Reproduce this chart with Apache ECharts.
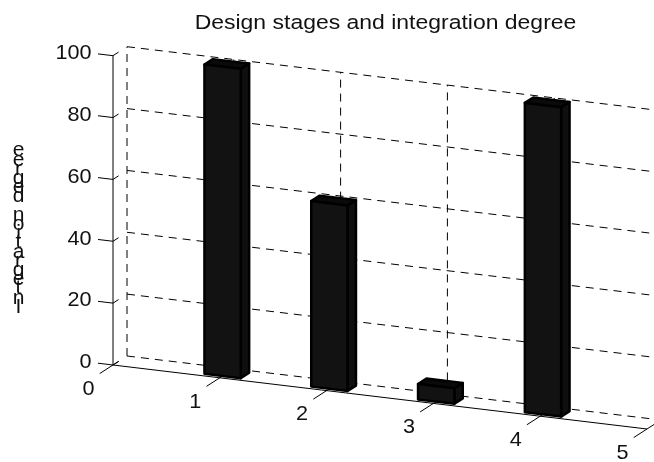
<!DOCTYPE html>
<html>
<head>
<meta charset="utf-8">
<style>html,body{margin:0;padding:0;background:#fff;overflow:hidden}#chart{width:654px;height:462px}</style>
<script src="https://cdn.jsdelivr.net/npm/echarts@6/dist/echarts.min.js"></script>
</head>
<body>
<div id="chart"></div>
<script>
const titleText = 'Design stages and integration degree';
const yAxisName = 'Integration degree';
const xTicks = [0, 1, 2, 3, 4, 5];
const yTicks = [0, 20, 40, 60, 80, 100];
const stages = [1, 2, 3, 4];
const degrees = [100, 60, 5, 100];

const chart = echarts.init(document.getElementById('chart'));
const FONT = '"Liberation Sans", Arial, sans-serif';
const TEXT_COLOR = '#111';

// fake 3D: the floor slopes down to the right, depth goes up and to the right
const SLOPE = 64 / 534;
const DEPTH = [14, -9];
const BAR_W = 0.17;
const BAR_D = [0.2, 0.8];

function project(api, x, y, d) {
    const p = api.coord([x, y]);
    const x0 = api.coord([0, 0])[0];
    return [p[0] + d * DEPTH[0], p[1] + (p[0] - x0) * SLOPE + d * DEPTH[1]];
}

function line(a, b, dashed) {
    return {
        type: 'line',
        shape: { x1: a[0], y1: a[1], x2: b[0], y2: b[1] },
        style: { stroke: '#000', lineWidth: 1, lineDash: dashed ? [8, 6] : null }
    };
}

function label(x, y, text, align) {
    return {
        type: 'text',
        x: x,
        y: y,
        scaleX: 1.03,
        style: {
            text: text, font: '21px ' + FONT, fill: TEXT_COLOR,
            align: align, verticalAlign: 'middle'
        }
    };
}

function renderHGrid(params, api) {
    const v = api.value(0);
    return line(project(api, 0, v, 1), project(api, 5, v, 1), true);
}

function renderVGrid(params, api) {
    const v = api.value(0);
    return line(project(api, v, 0, 1), project(api, v, 100, 1), true);
}

function renderXTick(params, api) {
    const v = api.value(0);
    const p = project(api, v, 0, 0);
    return {
        type: 'group',
        children: [
            line(project(api, v, 0, -0.95), project(api, v, 0, v === 5 ? 1 : 0.4), false),
            label(p[0] - 24.5, p[1] + 24, String(v), 'center')
        ]
    };
}

function renderYTick(params, api) {
    const v = api.value(0);
    const p = project(api, 0, v, 0);
    return {
        type: 'group',
        children: [
            line([p[0] - 15, p[1] - 1.8], p, false),
            line(p, project(api, 0, v, 0.4), false),
            label(91.5, p[1] - 2.5, String(v), 'right')
        ]
    };
}

function renderAxes(params, api) {
    return {
        type: 'group',
        children: [
            line(project(api, 0, 0, 0), project(api, 5, 0, 0), false),
            line(project(api, 0, 0, 0), project(api, 0, 100, 0), false)
        ]
    };
}

function renderBar(params, api) {
    const x = api.value(0), v = api.value(1);
    const l = x - BAR_W, r = x + BAR_W, f = BAR_D[0], b = BAR_D[1];
    const poly = (pts, fill) => ({
        type: 'polygon',
        shape: { points: pts },
        style: { fill: fill, stroke: '#000', lineWidth: 2.5, lineJoin: 'round' }
    });
    return {
        type: 'group',
        children: [
            poly([project(api, r, 0, f), project(api, r, 0, b), project(api, r, v, b), project(api, r, v, f)], '#0f0f0f'),
            poly([project(api, l, v, f), project(api, r, v, f), project(api, r, v, b), project(api, l, v, b)], '#0a0a0a'),
            poly([project(api, l, 0, f), project(api, r, 0, f), project(api, r, v, f), project(api, l, v, f)], '#121212')
        ]
    };
}

function oneByOne(list) {
    return list.map(v => [v]);
}

const option = {
    backgroundColor: '#fff',
    animation: false,
    grid: { left: 113, right: 7, top: 55.7, bottom: 97 },
    xAxis: { type: 'value', min: 0, max: 5, interval: 1, show: false },
    yAxis: { type: 'value', min: 0, max: 100, interval: 20, show: false },
    graphic: [
        {
            type: 'text',
            x: 385.5,
            y: 23,
            scaleX: 1.12,
            style: {
                text: titleText, font: '20.5px ' + FONT, fill: TEXT_COLOR,
                align: 'center', verticalAlign: 'middle'
            }
        },
        {
            type: 'text',
            x: 18.5,
            y: 146,
            style: {
                // the original prints the letters upright, bottom to top, squeezed together
                text: yAxisName.split('').reverse().join('\n'),
                font: '21px ' + FONT,
                lineHeight: 9.2,
                fill: TEXT_COLOR,
                align: 'center'
            }
        }
    ],
    series: [
        { type: 'custom', clip: false, silent: true, z: 1, data: oneByOne(yTicks), renderItem: renderHGrid },
        { type: 'custom', clip: false, silent: true, z: 1, data: oneByOne(xTicks), renderItem: renderVGrid },
        { type: 'custom', clip: false, silent: true, z: 2, data: [[0]], renderItem: renderAxes },
        { type: 'custom', clip: false, silent: true, z: 2, data: oneByOne(xTicks), renderItem: renderXTick },
        { type: 'custom', clip: false, silent: true, z: 2, data: oneByOne(yTicks), renderItem: renderYTick },
        {
            type: 'custom', clip: false, silent: true, z: 3,
            data: stages.map((s, i) => [s, degrees[i]]),
            renderItem: renderBar
        }
    ]
};

chart.setOption(option);
</script>
</body>
</html>
